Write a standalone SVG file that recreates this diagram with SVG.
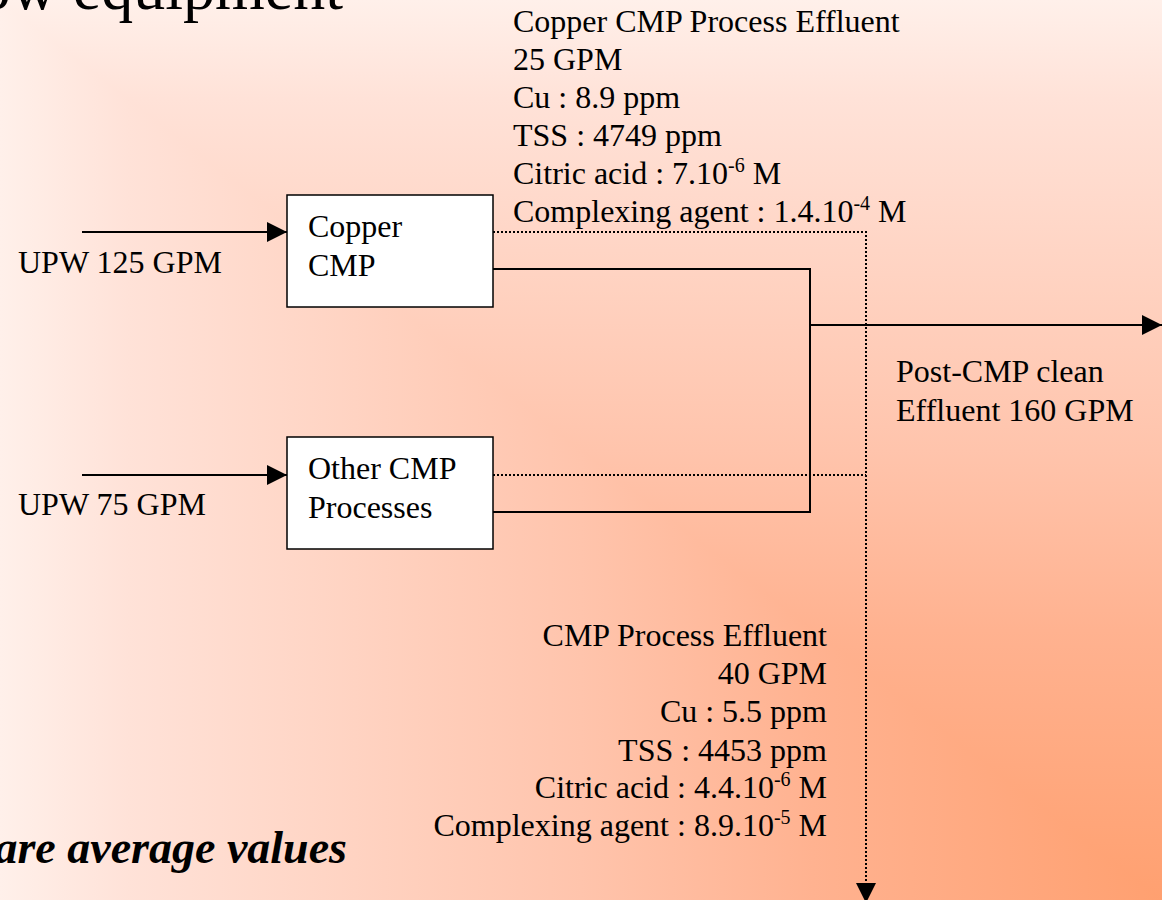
<svg xmlns="http://www.w3.org/2000/svg" width="1162" height="900" viewBox="0 0 1162 900">
<defs>
<linearGradient id="gv" x1="0" y1="0" x2="0" y2="900" gradientUnits="userSpaceOnUse">
<stop offset="0" stop-color="#fff0ea"/><stop offset="0.11" stop-color="#ffe2d8"/><stop offset="0.5" stop-color="#ffc4ac"/><stop offset="0.7" stop-color="#ffb290"/><stop offset="1" stop-color="#ffa070"/>
</linearGradient>
<linearGradient id="gh" x1="0" y1="0" x2="1162" y2="0" gradientUnits="userSpaceOnUse">
<stop offset="0" stop-color="#fff0ea"/><stop offset="0.11" stop-color="#ffe2d8"/><stop offset="0.5" stop-color="#ffc4ac"/><stop offset="0.7" stop-color="#ffb290"/><stop offset="1" stop-color="#ffa070"/>
</linearGradient>
<marker id="ah" markerUnits="userSpaceOnUse" markerWidth="20" markerHeight="20" refX="20" refY="10" orient="auto" viewBox="0 0 20 20">
<path d="M0,0 L20,10 L0,20 Z" fill="#000"/>
</marker>
<style>
text{font-family:"Liberation Serif","Times New Roman",serif;font-size:32px;fill:#000}
.box{fill:#fff;stroke:#000;stroke-width:1.5}
.solid{fill:none;stroke:#000;stroke-width:2}
.dot{fill:none;stroke:#000;stroke-width:2;stroke-dasharray:2 2}
.sup{font-size:20px}
</style>
</defs>
<rect x="0" y="0" width="1162" height="900" fill="url(#gh)"/>
<polygon points="0,0 1162,0 1162,900" fill="url(#gv)"/>
<text x="343" y="9" text-anchor="end" style="font-size:64px">ow equipment</text>
<text x="347" y="863" text-anchor="end" style="font-size:46px;font-weight:bold;font-style:italic">are average values</text>
<g id="connectors">
<path class="solid" d="M82,232 H287" marker-end="url(#ah)"/>
<path class="solid" d="M82,475 H287" marker-end="url(#ah)"/>
<path class="solid" d="M493,269 H810 V512 H493"/>
<path class="solid" d="M810,325 H1162" marker-end="url(#ah)"/>
<path class="dot" d="M493,232 H866 V903" marker-end="url(#ah)"/>
<path class="dot" d="M493,475 H866"/>
</g>
<g id="copper-cmp">
<rect class="box" x="287" y="195" width="206" height="112"/>
<text x="308" y="237">Copper</text>
<text x="308" y="276">CMP</text>
</g>
<g id="other-cmp">
<rect class="box" x="287" y="437" width="206" height="112"/>
<text x="308" y="479">Other CMP</text>
<text x="308" y="518">Processes</text>
</g>
<g id="upw125"><text x="18" y="273">UPW 125 GPM</text></g>
<g id="upw75"><text x="18" y="515">UPW 75 GPM</text></g>
<g id="post-cmp">
<text x="896" y="382">Post-CMP clean</text>
<text x="896" y="421">Effluent 160 GPM</text>
</g>
<g id="copper-effluent">
<text x="513" y="32">Copper CMP Process Effluent</text>
<text x="513" y="70">25 GPM</text>
<text x="513" y="108">Cu : 8.9 ppm</text>
<text x="513" y="146">TSS : 4749 ppm</text>
<text x="513" y="184">Citric acid : 7.10<tspan class="sup" dy="-12">-6</tspan><tspan dy="12"> M</tspan></text>
<text x="513" y="222">Complexing agent : 1.4.10<tspan class="sup" dy="-12">-4</tspan><tspan dy="12"> M</tspan></text>
</g>
<g id="cmp-effluent">
<text x="827" y="646" text-anchor="end">CMP Process Effluent</text>
<text x="827" y="684" text-anchor="end">40 GPM</text>
<text x="827" y="722" text-anchor="end">Cu : 5.5 ppm</text>
<text x="827" y="761" text-anchor="end">TSS : 4453 ppm</text>
<text x="827" y="798" text-anchor="end">Citric acid : 4.4.10<tspan class="sup" dy="-12">-6</tspan><tspan dy="12"> M</tspan></text>
<text x="827" y="836" text-anchor="end">Complexing agent : 8.9.10<tspan class="sup" dy="-12">-5</tspan><tspan dy="12"> M</tspan></text>
</g>
</svg>
